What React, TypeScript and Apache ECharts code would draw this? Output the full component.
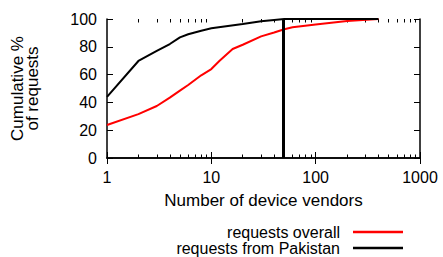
import React, { useEffect, useRef } from "react";
import * as echarts from "echarts";

const overallX = [1, 2, 3, 4, 5, 6, 8, 10, 12, 16, 20, 30, 40, 50, 60, 100, 200, 400];
const overallY = [23.7, 31.6, 37.4, 43.4, 48.5, 52.5, 59.5, 64, 70, 78.4, 81.5, 87.5, 90.3, 92.6, 94, 96, 98.5, 100];
const pakX = [1, 2, 3, 4, 5, 6, 8, 10, 20, 30, 40, 50, 100, 200, 400];
const pakY = [44, 69.8, 77, 82, 86.8, 89, 91.6, 93.3, 96.4, 98.3, 99.3, 100, 100, 100, 100];
const markerX = 49;
const majorTickValues = [1, 10, 100, 1000];
const minorTickValues = [2, 3, 4, 5, 6, 7, 8, 9, 20, 30, 40, 50, 60, 70, 80, 90, 200, 300, 400, 500, 600, 700, 800, 900];
const seriesNames = ["requests overall", "requests from Pakistan"];

const FONT = "'Liberation Sans', Arial, sans-serif";

export default function App() {
  const ref = useRef<HTMLDivElement>(null);
  useEffect(() => {
    if (!ref.current) return;
    const chart = echarts.init(ref.current, undefined, { renderer: "svg" });
    const axisLine = { show: true, lineStyle: { color: "#000", width: 1.5 } };
    const tick = { show: true, inside: true, length: 6, lineStyle: { color: "#000", width: 1 } };
    const minorAxis = (position: string) => ({
      type: "log",
      logBase: 10,
      min: 1,
      max: 1000,
      position,
      axisLine: { show: false },
      axisTick: { show: true, inside: true, length: 3.5, customValues: minorTickValues, lineStyle: { color: "#000", width: 1 } },
      splitLine: { show: false },
      axisLabel: { show: false },
    });
    const legendText = { fontSize: 16, lineHeight: 16, color: "#000", padding: [0, 8, 0, 0], fontFamily: FONT };
    chart.setOption({
      animation: false,
      textStyle: { fontFamily: FONT },
      grid: { left: 107, right: 23, top: 19, bottom: 99, containLabel: false },
      xAxis: [
        {
          type: "log",
          logBase: 10,
          min: 1,
          max: 1000,
          position: "bottom",
          axisLine,
          axisTick: { ...tick, customValues: majorTickValues },
          splitLine: { show: false },
          axisLabel: {
            color: "#000",
            fontSize: 16,
            margin: 11,
            fontFamily: FONT,
            customValues: majorTickValues,
            formatter: (v: number) => String(v),
          },
          name: "Number of device vendors",
          nameLocation: "middle",
          nameGap: 34,
          nameTextStyle: { color: "#000", fontSize: 17, fontFamily: FONT },
        },
        {
          type: "log",
          logBase: 10,
          min: 1,
          max: 1000,
          position: "top",
          axisLine,
          axisTick: { ...tick, customValues: majorTickValues },
          splitLine: { show: false },
          axisLabel: { show: false },
        },
        minorAxis("bottom"),
        minorAxis("top"),
      ],
      yAxis: [
        {
          type: "value",
          min: 0,
          max: 100,
          interval: 20,
          position: "left",
          axisLine,
          axisTick: tick,
          splitLine: { show: false },
          axisLabel: { color: "#000", fontSize: 16, margin: 10, fontFamily: FONT },
          name: "Cumulative %\nof requests",
          nameLocation: "middle",
          nameGap: 67,
          nameTextStyle: { color: "#000", fontSize: 17, lineHeight: 15, fontFamily: FONT, align: "center" },
        },
        {
          type: "value",
          min: 0,
          max: 100,
          interval: 20,
          position: "right",
          axisLine,
          axisTick: tick,
          splitLine: { show: false },
          axisLabel: { show: false },
        },
      ],
      legend: [
        {
          data: [seriesNames[0]],
          align: "right",
          right: 35,
          top: 219,
          icon: "rect",
          itemWidth: 50,
          itemHeight: 2.5,
          textStyle: legendText,
        },
        {
          data: [seriesNames[1]],
          align: "right",
          right: 35,
          top: 235,
          icon: "rect",
          itemWidth: 50,
          itemHeight: 2.5,
          textStyle: legendText,
        },
      ],
      series: [
        {
          name: seriesNames[0],
          type: "line",
          data: overallX.map((x, i) => [x, overallY[i]]),
          showSymbol: false,
          color: "#ff0000",
          lineStyle: { color: "#ff0000", width: 2 },
        },
        {
          name: seriesNames[1],
          type: "line",
          data: pakX.map((x, i) => [x, pakY[i]]),
          showSymbol: false,
          color: "#000000",
          lineStyle: { color: "#000000", width: 2 },
          markLine: {
            silent: true,
            symbol: ["none", "none"],
            label: { show: false },
            lineStyle: { color: "#000", width: 3, type: "solid" },
            data: [{ xAxis: markerX }],
          },
        },
      ],
    });
    return () => chart.dispose();
  }, []);
  return <div ref={ref} style={{ width: 443, height: 257, position: "absolute", left: 0, top: 0 }} />;
}
